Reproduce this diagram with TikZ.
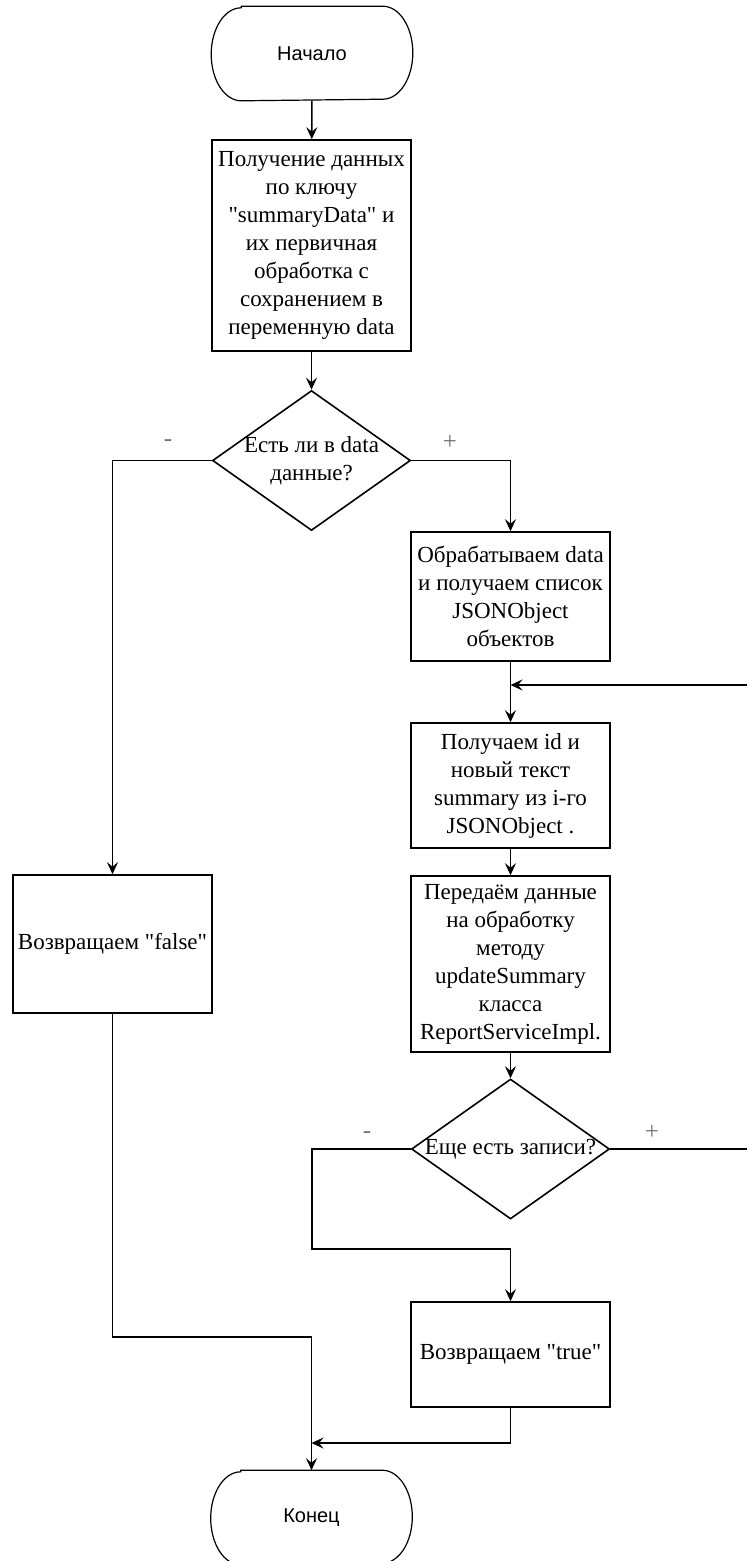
\documentclass[tikz,border=0pt]{standalone}
\usepackage{fontspec}
\setmainfont{Liberation Serif}[Ligatures=TeXOff]
\newfontfamily\termfont{Liberation Sans}
\usetikzlibrary{shapes.geometric,arrows.meta}
\begin{document}
\begin{tikzpicture}[x=1pt,y=-1pt,
  line width=1.6pt,
  every node/.style={inner sep=0pt},
  txt/.style={font=\fontsize{23}{28}\selectfont, align=center},
  procbox/.style={draw, rectangle, txt, minimum width=199pt},
  decision/.style={draw, diamond, minimum width=198pt, minimum height=140pt},
  termbox/.style={minimum width=200pt, minimum height=93pt, font=\termfont\fontsize{20}{24}\selectfont},
  flow/.style={-{Stealth[length=12pt,width=11pt,inset=4.5pt]}},
  sign/.style={text=black!55, font=\fontsize{25}{28}\selectfont}
]
\useasboundingbox (0,0) rectangle (747,1561);
\clip (0,0) rectangle (747,1561);

% blocks
\node[termbox] (start) at (312,53.5) {Начало};
\node[procbox, minimum height=211pt] (get) at (311.5,245.5)
  {Получение данных\\по ключу\\"summaryData" и\\их первичная\\обработка с\\сохранением в\\переменную data};
\node[decision, label={[txt]center:Есть ли в data\\данные?}] (hasdata) at (311.5,460.5) {};
\node[procbox, minimum height=129pt] (parse) at (510.5,596.5)
  {Обрабатываем data\\и получаем список\\JSONObject\\объектов};
\node[procbox, minimum height=125pt] (fetch) at (510.5,785.5)
  {Получаем id и\\новый текст\\summary из i-го\\JSONObject .};
\node[procbox, minimum height=176pt] (send) at (510.5,964)
  {Передаём данные\\на обработку\\методу\\updateSummary\\класса\\ReportServiceImpl.};
\node[decision, label={[txt]center:Еще есть записи?}] (more) at (510.5,1149) {};
\node[procbox, minimum height=138pt] (retfalse) at (112.5,944) {Возвращаем "false"};
\node[procbox, minimum height=105pt] (rettrue) at (510.5,1354.5) {Возвращаем "true"};
\node[termbox] (finish) at (311.5,1517.5) {Конец};

% terminator outlines
\foreach \t in {start,finish}
  \draw[line width=1.2pt] ([xshift=30pt]\t.north west) -- ([xshift=-30pt]\t.north east)
    arc[start angle=90,end angle=-90,x radius=30pt,y radius=46.5pt]
    -- ([xshift=30pt]\t.south west)
    arc[start angle=270,end angle=90,x radius=30pt,y radius=46.5pt] -- cycle;

% branch signs
\node[sign] (minus1) at (168,443) {-};
\node[sign] (plus1) at (450,442) {+};
\node[sign] (minus2) at (367,1135) {-};
\node[sign] (plus2) at (652,1132) {+};

% helper points
\coordinate (loopin) at (510.5,685);
\coordinate (loopcorner) at (760,685);
\coordinate (nobend) at (312,1249);
\coordinate (truejoin) at (311.5,1443);
\coordinate (falsejoin) at (112.5,1337);

% connectors
\draw[flow] (start) -- (get);
\draw[flow] (get) -- (hasdata);
\draw[flow] (hasdata.west) -| (retfalse.north);
\draw[flow] (hasdata.east) -| (parse.north);
\draw[flow] (parse) -- (fetch);
\draw[flow] (fetch) -- (send);
\draw[flow] (send) -- (more);
\draw[flow] (more.east) -- (more.east -| loopcorner) -- (loopcorner) -- (loopin);
\draw[flow] (more.west) -| (nobend) -| (rettrue.north);
\draw[flow] (rettrue.south) |- (truejoin);
\draw[flow] (retfalse.south) -- (falsejoin) -| (finish.north);
\end{tikzpicture}
\end{document}
